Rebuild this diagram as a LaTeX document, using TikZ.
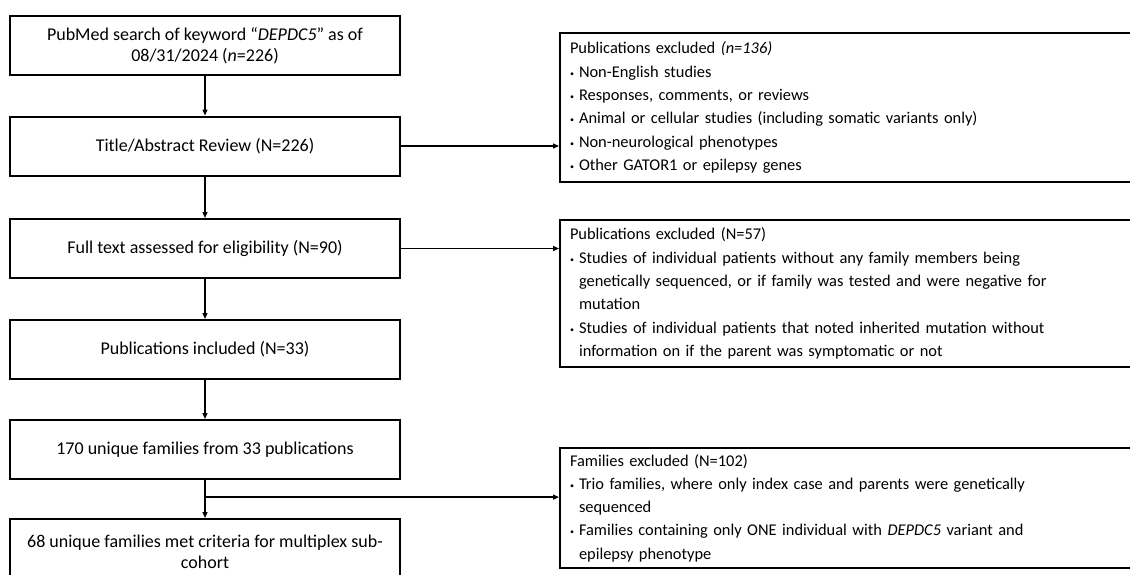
\documentclass[tikz,border=0pt]{standalone}
\usepackage{fontspec}
\setmainfont{Carlito}
\usepackage{tikz}
\usetikzlibrary{arrows.meta}
\usetikzlibrary{positioning,calc}
\tikzset{
    stepbox/.style={draw=black, line width=2pt, minimum width=390pt, minimum height=59pt,
        inner sep=0pt, align=center, font=\fontsize{18pt}{21pt}\selectfont},
    exbox/.style={draw=black, line width=2pt, anchor=north west, text width=566pt,
        inner xsep=10pt, inner ysep=0pt, align=left, font=\fontsize{16.4pt}{23.3pt}\selectfont},
    flow/.style={draw=black, line width=1.3pt, -{Triangle[length=6pt,width=5pt]}},
}
\newcommand{\bul}{\makebox[9pt][l]{\raisebox{1pt}{\footnotesize\textbullet}}}
\newcommand{\hang}{\hspace*{9pt}}

\begin{document}
\begin{tikzpicture}[x=1pt, y=-1pt]
		\useasboundingbox (0,0) rectangle (1130,574);
		\clip (0,0) rectangle (1130,574);
		% main column
		\node[stepbox] (search) at (205,45.5) {PubMed search of keyword ``\textit{DEPDC5}'' as of\\08/31/2024 (\textit{n}=226)};
		\node[stepbox] (title) at (205,146) {Title/Abstract Review (N=226)};
		\node[stepbox] (full) at (205,248.5) {Full text assessed for eligibility (N=90)};
		\node[stepbox] (incl) at (205,349.5) {Publications included (N=33)};
		\node[stepbox] (fam) at (205,449.5) {170 unique families from 33 publications};
		\node[stepbox, minimum height=66pt] (multi) at (205,552) {68 unique families met criteria for multiplex sub-\\cohort};
		% exclusions
		\node[exbox, minimum height=149pt] (exone) at (559,32) {Publications excluded \textit{(n=136)}\\
			\bul Non-English studies\\
			\bul Responses, comments, or reviews\\
			\bul Animal or cellular studies (including somatic variants only)\\
			\bul Non-neurological phenotypes\\
			\bul Other GATOR1 or epilepsy genes};
		\node[exbox, minimum height=147pt] (extwo) at (559,219) {Publications excluded (N=57)\\
			\bul Studies of individual patients without any family members being\\
			\hang genetically sequenced, or if family was tested and were negative for\\
			\hang mutation\\
			\bul Studies of individual patients that noted inherited mutation without\\
			\hang information on if the parent was symptomatic or not};
		\node[exbox, minimum height=120pt] (exthree) at (559,447) {Families excluded (N=102)\\
			\bul Trio families, where only index case and parents were genetically\\
			\hang sequenced\\
			\bul Families containing only ONE individual with \textit{DEPDC5} variant and\\
			\hang epilepsy phenotype};
		% arrows
		\draw[flow] (search) -- (title);
		\draw[flow] (title) -- (full);
		\draw[flow] (full) -- (incl);
		\draw[flow] (incl) -- (fam);
		\draw[flow] (fam) -- (multi);
		\coordinate (split) at ($(fam.south)!0.45!(multi.north)$);
		\draw[flow] (title.east) -- (title.east -| exone.west);
		\draw[flow] (full.east) -- (full.east -| extwo.west);
		\draw[flow] (split) -- (split -| exthree.west);
	 \end{tikzpicture}
\end{document}
